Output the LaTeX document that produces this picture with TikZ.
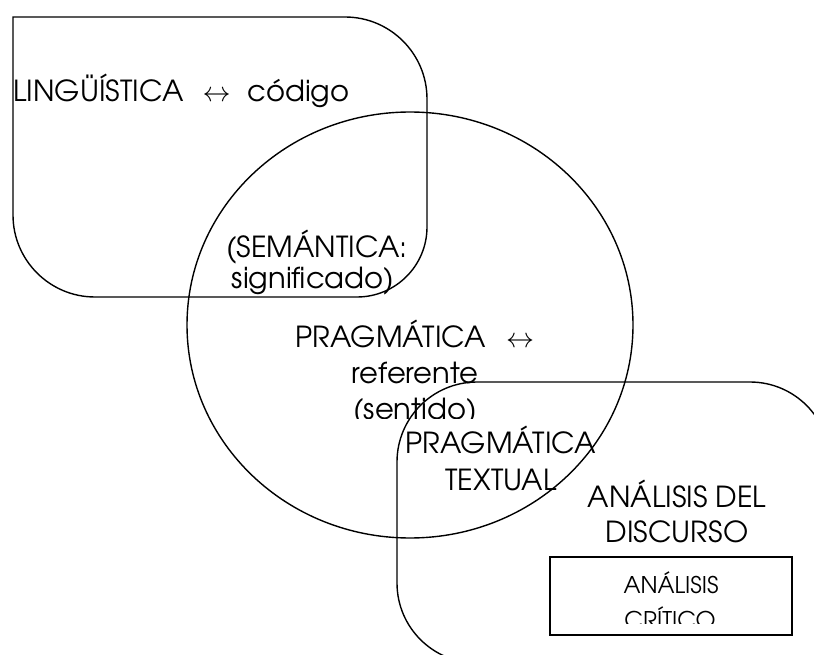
\documentclass[tikz,border=0pt]{standalone}
\usepackage{fontspec}
\setmainfont{TeX Gyre Adventor}
\newcommand{\lrarrow}{\resizebox{28pt}{!}{$\leftrightarrow$}}
\begin{document}
\begin{tikzpicture}[x=1pt,y=1pt,
  outline/.style={draw=black,line width=1.4pt},
  big/.style={inner sep=0pt,anchor=base,font=\fontsize{29}{35}\selectfont},
  small/.style={inner sep=0pt,anchor=base,font=\fontsize{23}{28}\selectfont}]
\useasboundingbox (0,0) rectangle (814,-655);
\begin{scope}
\clip (0,0) rectangle (814,-655);
% linguistica shape
\draw[outline] (13,-17) -- (345,-17) arc[start angle=90,end angle=0,radius=82pt]
  -- (427,-227) arc[start angle=0,end angle=-90,radius=70pt]
  -- (95,-297) arc[start angle=270,end angle=180,radius=82pt] -- cycle;
% pragmatica ellipse
\draw[outline] (410,-325) ellipse[x radius=223pt,y radius=213pt];
% discurso shape
\draw[outline] (397,-462) arc[start angle=180,end angle=90,radius=80pt]
  -- (750,-382) arc[start angle=90,end angle=0,radius=80pt]
  -- (830,-663) -- (477,-663) arc[start angle=270,end angle=180,radius=80pt] -- cycle;
% critico box
\draw[outline] (550,-557) rectangle (792,-635);
\end{scope}
% texts
\node[big,anchor=base west] (ling) at (13,-102) {LINGÜÍSTICA\hspace{19pt}\lrarrow\hspace{17pt}código};
\node[big] (sem1) at (317,-258) {(SEMÁNTICA:};
\node[big] (sem2) at (313,-288) {significado)};
\node[big] (prag1) at (415,-347) {PRAGMÁTICA\hspace{20pt}\lrarrow};
\node[big] (prag2) at (415,-383) {referente};
\begin{scope}
\clip (300,-393) rectangle (530,-418);
\node[big] (prag3) at (415,-419) {(sentido)};
\end{scope}
\node[big] (txt1) at (501,-453) {PRAGMÁTICA};
\node[big] (txt2) at (501,-490) {TEXTUAL};
\node[big] (ad1) at (677,-507) {ANÁLISIS DEL};
\node[big] (ad2) at (677,-542) {DISCURSO};
\node[small] (ac1) at (671,-593) {ANÁLISIS};
\begin{scope}
\clip (560,-600) rectangle (780,-623);
\node[small] (ac2) at (670,-628) {CRÍTICO};
\end{scope}
\end{tikzpicture}
\end{document}
